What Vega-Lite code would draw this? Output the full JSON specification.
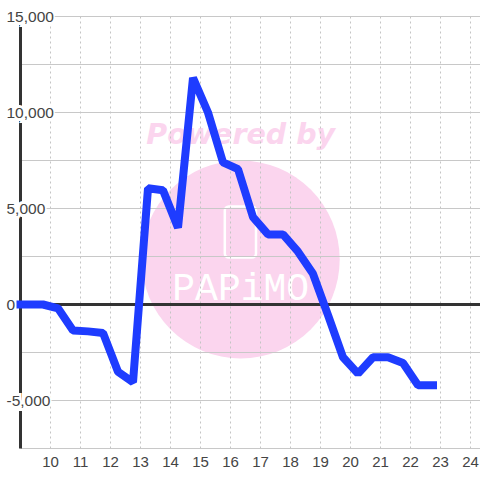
{
"$schema":"https://vega.github.io/schema/vega-lite/v6.json",
"autosize":"none","width":460,"height":432,
"padding":{"left":20.5,"top":16.5,"right":0,"bottom":32},
"background":"white","view":{"stroke":null},
"config":{"font":"Liberation Sans"},
"datasets":{
"series":[{"h":9,"v":0},{"h":9.75,"v":0},{"h":10.25,"v":-200},{"h":10.75,"v":-1350},{"h":11.25,"v":-1400},{"h":11.75,"v":-1480},{"h":12.25,"v":-3500},{"h":12.75,"v":-4050},{"h":13.25,"v":6050},{"h":13.75,"v":5950},{"h":14.25,"v":4000},{"h":14.75,"v":11800},{"h":15.25,"v":10000},{"h":15.75,"v":7400},{"h":16.25,"v":7050},{"h":16.75,"v":4550},{"h":17.25,"v":3650},{"h":17.75,"v":3650},{"h":18.25,"v":2750},{"h":18.75,"v":1600},{"h":19.25,"v":-550},{"h":19.75,"v":-2750},{"h":20.25,"v":-3600},{"h":20.75,"v":-2750},{"h":21.25,"v":-2750},{"h":21.75,"v":-3050},{"h":22.25,"v":-4200},{"h":22.75,"v":-4200}],
"yticks":[{"v":15000},{"v":12500},{"v":10000},{"v":7500},{"v":5000},{"v":2500},{"v":0},{"v":-2500},{"v":-5000},{"v":-7500}],
"ylabels":[{"h":9,"v":15000,"l":"15,000"},{"h":9,"v":10000,"l":"10,000"},{"h":9,"v":5000,"l":"5,000"},{"h":9,"v":0,"l":"0"},{"h":9,"v":-5000,"l":"-5,000"}],
"xticks":[{"h":10},{"h":11},{"h":12},{"h":13},{"h":14},{"h":15},{"h":16},{"h":17},{"h":18},{"h":19},{"h":20},{"h":21},{"h":22},{"h":23},{"h":24}]
},
"layer":[
{"data":{"values":[{"h":16.34,"v":2344}]},"mark":{"type":"point","shape":"circle","filled":true,"size":39204,"color":"#fbd5ee","opacity":1},"encoding":{"x":{"field":"h","type":"quantitative","scale":{"domain":[9,24.333],"nice":false,"zero":false},"axis":null},"y":{"field":"v","type":"quantitative","scale":{"domain":[-7500,15000],"nice":false,"zero":false},"axis":null}}},
{"data":{"values":[{"h":16.34,"v":8830,"t":"Powered by"}]},"mark":{"type":"text","font":"DejaVu Sans","fontWeight":"bold","fontStyle":"italic","fontSize":28.5,"color":"#fbd5ee","align":"center","baseline":"middle"},"encoding":{"x":{"field":"h","type":"quantitative"},"y":{"field":"v","type":"quantitative"},"text":{"field":"t"}}},
{"data":{"values":[{"h":16.34,"v":833,"t":"PAPiMO"}]},"mark":{"type":"text","font":"Liberation Mono","fontSize":38,"color":"#ffffff","align":"center","baseline":"middle"},"encoding":{"x":{"field":"h","type":"quantitative"},"y":{"field":"v","type":"quantitative"},"text":{"field":"t"}}},
{"data":{"values":[{"h":15.81,"h2":16.85,"v":5104,"v2":2448}]},"mark":{"type":"rect","fill":null,"stroke":"#ffffff","strokeWidth":2.5,"cornerRadius":4},"encoding":{"x":{"field":"h","type":"quantitative"},"y":{"field":"v","type":"quantitative"},"x2":{"field":"h2"},"y2":{"field":"v2"}}},
{"data":{"name":"xticks"},"mark":{"type":"rule","color":"#c4c4c4","strokeWidth":1,"strokeDash":[2,3]},"encoding":{"x":{"field":"h","type":"quantitative"}}},
{"data":{"name":"yticks"},"mark":{"type":"rule","color":"#c8c8c8","strokeWidth":1},"encoding":{"y":{"field":"v","type":"quantitative"}}},
{"data":{"values":[{"v":0}]},"mark":{"type":"rule","color":"#333333","strokeWidth":3},"encoding":{"y":{"field":"v","type":"quantitative"}}},
{"data":{"values":[{"h":9}]},"mark":{"type":"rule","color":"#333333","strokeWidth":3},"encoding":{"x":{"field":"h","type":"quantitative"}}},
{"data":{"name":"ylabels"},"mark":{"type":"text","align":"left","baseline":"middle","dx":-14,"fontSize":15,"stroke":"#ffffff","strokeWidth":6,"color":"#ffffff"},"encoding":{"x":{"field":"h","type":"quantitative"},"y":{"field":"v","type":"quantitative"},"text":{"field":"l"}}},
{"data":{"name":"ylabels"},"mark":{"type":"text","align":"left","baseline":"middle","dx":-14,"fontSize":15.5,"color":"#444444"},"encoding":{"x":{"field":"h","type":"quantitative"},"y":{"field":"v","type":"quantitative"},"text":{"field":"l"}}},
{"data":{"name":"xticks"},"mark":{"type":"text","align":"center","baseline":"middle","fontSize":15,"color":"#444444"},"encoding":{"x":{"field":"h","type":"quantitative"},"y":{"value":445},"text":{"field":"h"}}},
{"data":{"name":"series"},"mark":{"type":"line","color":"#1e3cff","strokeWidth":8,"strokeCap":"square","strokeJoin":"bevel"},"encoding":{"x":{"field":"h","type":"quantitative"},"y":{"field":"v","type":"quantitative"}}}
]
}
